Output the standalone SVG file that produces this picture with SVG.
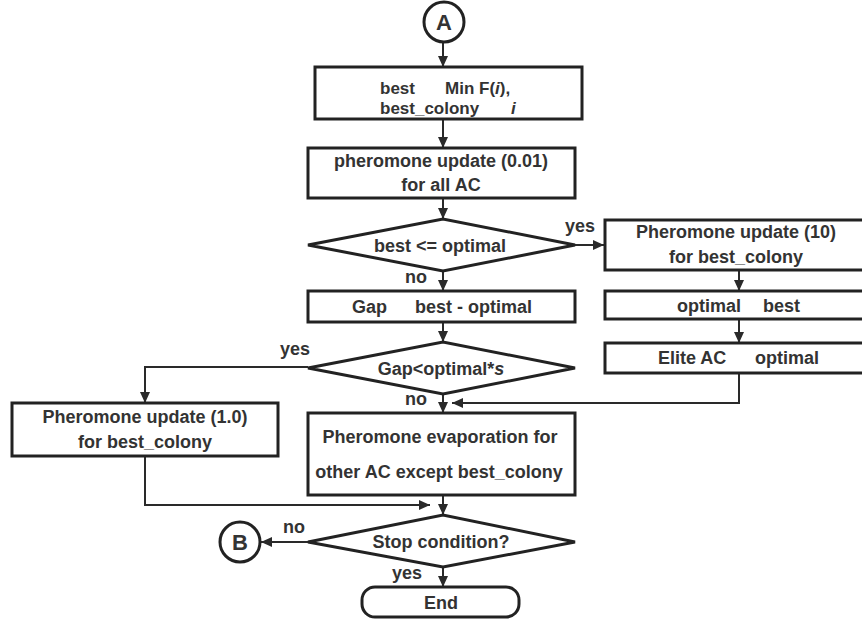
<svg xmlns="http://www.w3.org/2000/svg" width="862" height="624" viewBox="0 0 862 624">
<defs>
<marker id="ah" markerUnits="userSpaceOnUse" markerWidth="12" markerHeight="12" refX="11" refY="5" orient="auto">
<path d="M0,0 L11,5 L0,10 Z" fill="#2a2a2a"/>
</marker>
<style>
.n{fill:#fff;stroke:#222;stroke-width:3}
.c{fill:none;stroke:#2a2a2a;stroke-width:2}
.t{font-family:"Liberation Sans",Arial,sans-serif;font-weight:bold;font-size:18px;fill:#333}
.s{font-size:17px}
.m{text-anchor:middle}
.i{font-style:italic}
</style>
</defs>
<rect width="862" height="624" fill="#fff"/>
<g id="connectors">
<path class="c" d="M443,43 V67" marker-end="url(#ah)"/>
<path class="c" d="M443,119 V148" marker-end="url(#ah)"/>
<path class="c" d="M443,198 V219" marker-end="url(#ah)"/>
<path class="c" d="M575,245 H604" marker-end="url(#ah)"/>
<path class="c" d="M443,271 V291" marker-end="url(#ah)"/>
<path class="c" d="M443,322 V342" marker-end="url(#ah)"/>
<path class="c" d="M308,367 H145 V403" marker-end="url(#ah)"/>
<path class="c" d="M443,394 V413" marker-end="url(#ah)"/>
<path class="c" d="M739,270 V291" marker-end="url(#ah)"/>
<path class="c" d="M739,319 V343" marker-end="url(#ah)"/>
<path class="c" d="M739,373 V403 H452" marker-end="url(#ah)"/>
<path class="c" d="M443,495 V515" marker-end="url(#ah)"/>
<path class="c" d="M145,456 V505 H430" marker-end="url(#ah)"/>
<path class="c" d="M308,542 H261" marker-end="url(#ah)"/>
<path class="c" d="M443,567 V587" marker-end="url(#ah)"/>
<text class="t" x="565" y="232">yes</text>
<text class="t" x="405" y="283">no</text>
<text class="t" x="280" y="355">yes</text>
<text class="t" x="405" y="405">no</text>
<text class="t" x="283" y="533">no</text>
<text class="t" x="392" y="579">yes</text>
</g>
<g id="A">
<circle class="n" cx="444" cy="22" r="20"/>
<text class="t m" x="444" y="30" style="font-size:22px">A</text>
</g>
<g id="best">
<rect class="n" x="315" y="67" width="267" height="52"/>
<text class="t s" x="380" y="94">best</text>
<text class="t s" x="445" y="94">Min F(<tspan class="i">i</tspan>),</text>
<text class="t s" x="380" y="114">best_colony</text>
<text class="t s i" x="511" y="114">i</text>
</g>
<g id="update001">
<rect class="n" x="308" y="148" width="267" height="50"/>
<text class="t m" x="441" y="167">pheromone update (0.01)</text>
<text class="t m" x="441" y="191">for all AC</text>
</g>
<g id="cond1">
<polygon class="n" points="308,245 443,219 575,245 443,271"/>
<text class="t m" x="440" y="252">best &lt;= optimal</text>
</g>
<g id="update10">
<rect class="n" x="605" y="220" width="265" height="50"/>
<text class="t m" x="736" y="238">Pheromone update (10)</text>
<text class="t m" x="736" y="263">for best_colony</text>
</g>
<g id="optimalbest">
<rect class="n" x="605" y="291" width="265" height="28"/>
<text class="t" x="677" y="312">optimal</text>
<text class="t" x="763" y="312">best</text>
</g>
<g id="elite">
<rect class="n" x="605" y="343" width="265" height="30"/>
<text class="t" x="658" y="364">Elite AC</text>
<text class="t" x="755" y="364">optimal</text>
</g>
<g id="gap">
<rect class="n" x="308" y="291" width="267" height="31"/>
<text class="t" x="352" y="313">Gap</text>
<text class="t" x="415" y="313">best - optimal</text>
</g>
<g id="cond2">
<polygon class="n" points="308,368 443,342 575,368 443,394"/>
<text class="t m" x="441" y="375">Gap&lt;optimal*<tspan class="i">s</tspan></text>
</g>
<g id="update10b">
<rect class="n" x="12" y="403" width="266" height="53"/>
<text class="t m" x="145" y="423">Pheromone update (1.0)</text>
<text class="t m" x="145" y="448">for best_colony</text>
</g>
<g id="evap">
<rect class="n" x="308" y="413" width="267" height="82"/>
<text class="t m" x="440" y="443">Pheromone evaporation for</text>
<text class="t m" x="439" y="478">other AC except best_colony</text>
</g>
<g id="stop">
<polygon class="n" points="308,542 443,515 575,542 443,567"/>
<text class="t m" x="441" y="548">Stop condition?</text>
</g>
<g id="B">
<circle class="n" cx="240" cy="542" r="20"/>
<text class="t m" x="240" y="550" style="font-size:22px">B</text>
</g>
<g id="end">
<rect class="n" x="362" y="587" width="157" height="30" rx="13"/>
<text class="t m" x="441" y="609">End</text>
</g>
</svg>
